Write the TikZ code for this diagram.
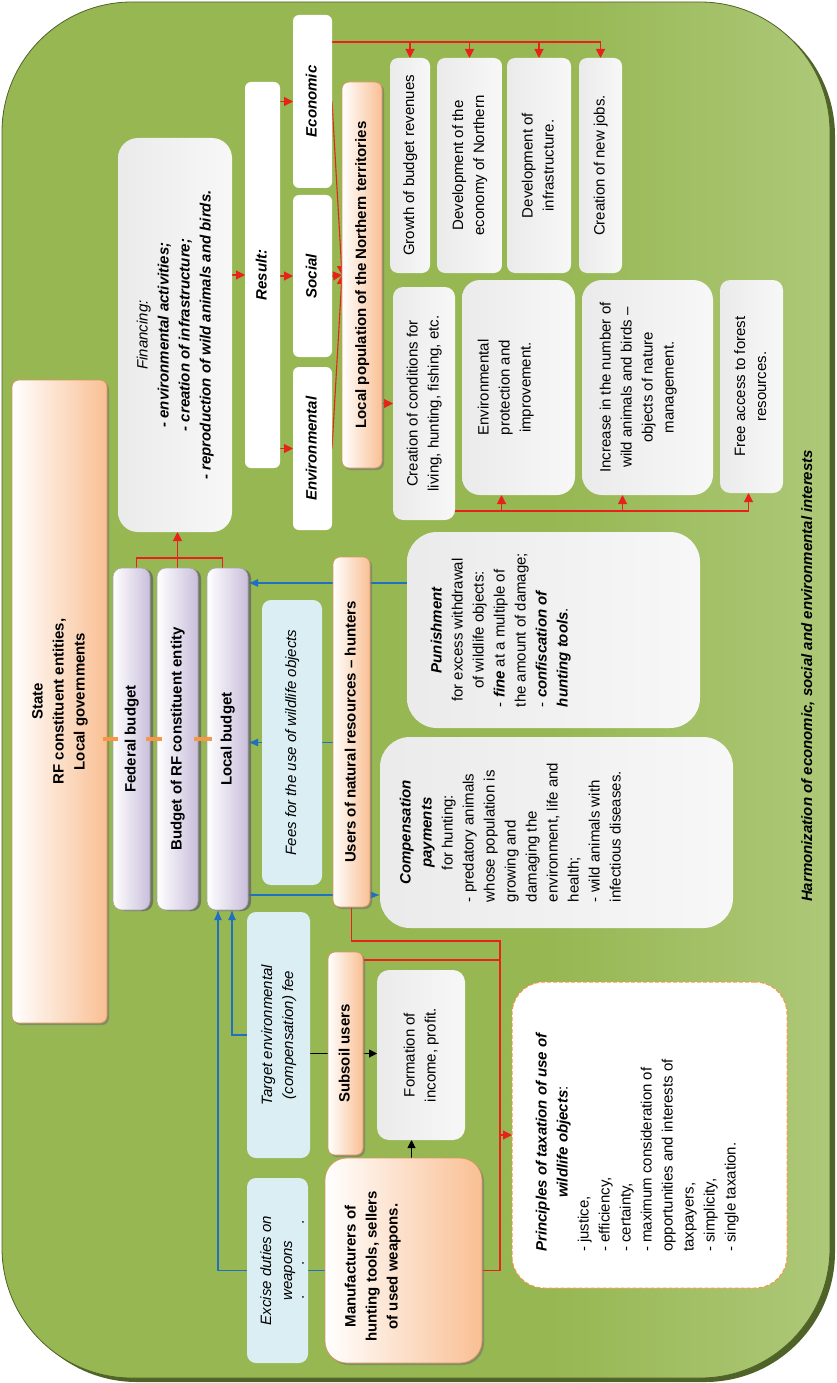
\documentclass[tikz,border=0pt]{standalone}
\usepackage{fontspec}
\setmainfont{Liberation Sans}
\usepackage{graphicx}
\usetikzlibrary{arrows.meta, positioning, shadows, calc}

\definecolor{bgL}{HTML}{BFD595}
\definecolor{bgM}{HTML}{96B752}
\definecolor{bgD}{HTML}{4F6228}
\definecolor{peachR}{HTML}{F9BF93}
\definecolor{peachD}{HTML}{D9955E}
\definecolor{lavR}{HTML}{C9BEDB}
\definecolor{skyF}{HTML}{DBEEF4}
\definecolor{redC}{HTML}{E8221B}
\definecolor{blueC}{HTML}{1F70C1}
\definecolor{dashC}{HTML}{F79646}

\pgfdeclarehorizontalshading{greenbg}{100bp}{color(0bp)=(bgL); color(14bp)=(bgM);
    color(58bp)=(bgM); color(88bp)=(bgL); color(100bp)=(bgL)}

\pgfdeclarelayer{back}
\pgfdeclarelayer{links}
\pgfsetlayers{back,links,main}

% rotated text block (reads bottom to top)
\newcommand{\rt}[2][c]{\rotatebox{90}{\begin{tabular}{@{}#1@{}}#2\end{tabular}}}
\newcommand{\bolditalic}[1]{\textbf{\textit{#1}}}
\newcommand{\ctr}[1]{\multicolumn{1}{@{}c@{}}{#1}}

\begin{document}
\begin{tikzpicture}[x=1pt, y=-1pt,
    font=\fontsize{15}{21}\selectfont,
    every node/.style={inner sep=0pt, outer sep=0pt},
    sz/.style 2 args={minimum width=#1pt, minimum height=#2pt},
    greybox/.style={rectangle, rounded corners=8pt, left color=black!8, right color=black!3},
    whitebox/.style={rectangle, rounded corners=6pt, fill=white},
    bluebox/.style={rectangle, rounded corners=9pt, fill=skyF},
    peachbox/.style={rectangle, rounded corners=7pt, left color=white, right color=peachR,
        draw=peachD, line width=0.7pt,
        drop shadow={shadow xshift=2pt, shadow yshift=-2pt, fill=black!55, opacity=.6}},
    budgetbox/.style={rectangle, rounded corners=9pt, left color=white, right color=lavR,
        draw=black!35, line width=0.6pt,
        drop shadow={shadow xshift=3pt, shadow yshift=-1pt, fill=black!60, opacity=.8}},
    redl/.style={draw=redC, line width=1.1pt},
    redar/.style={redl, -{Triangle[length=9pt, width=9pt]}},
    bluear/.style={draw=blueC, line width=1.2pt, -{Latex[length=10pt, width=8pt]}},
    blkl/.style={draw=black, line width=1pt},
    blkar/.style={blkl, -{Triangle[length=8pt, width=8pt]}}]

    \useasboundingbox (0,0) rectangle (836,1383);

    % Green frame
    \begin{pgfonlayer}{back}
        \fill[bgD, rounded corners=130pt] (7,6) rectangle (835,1382);
        \path[rounded corners=130pt, shading=greenbg, draw=bgD, line width=0.8pt] (2,2) rectangle (830,1378);
    \end{pgfonlayer}

    % State and the budgets
    \node[peachbox, sz={95}{643}] (state) at (59.5,701.5)
        {\bfseries\rt{State\\RF constituent entities,\\Local governments}};
    \node[budgetbox, sz={37}{342}] (fed) at (131.5,739) {\bfseries\rt{Federal budget}};
    \node[budgetbox, sz={41}{342}, right=7pt of fed] (rfb) {\bfseries\rt{Budget of RF constituent entity}};
    \node[budgetbox, sz={41}{342}, right=9pt of rfb] (lbud) {\bfseries\rt{Local budget}};

    % Financing and results
    \node[greybox, rounded corners=20pt, sz={114}{394}] (fin) at (175,335)
        {\rt{\textit{Financing:}\\ \bolditalic{- environmental activities;}\\
        \bolditalic{- creation of infrastructure;}\\ \bolditalic{- reproduction of wild animals and birds.}}};
    \node[whitebox, sz={35}{386}] (res) at (262.5,275) {\rt{\bolditalic{Result:}}};
    \node[whitebox, sz={39}{173}] (eco) at (312.5,101.5) {\rt{\bolditalic{Economic}}};
    \node[whitebox, sz={39}{162}] (soc) at (312.5,276) {\rt{\bolditalic{Social}}};
    \node[whitebox, sz={39}{163}] (env) at (312.5,448.5) {\rt{\bolditalic{Environmental}}};
    \node[peachbox, sz={40}{386}] (loc) at (362,275)
        {\bfseries\rt{Local population of the Northern territories}};

    % Economic effects
    \node[greybox, sz={40}{215}] (grow) at (410,165.5) {\rt{Growth of budget revenues}};
    \node[greybox, sz={65}{215}, right=7pt of grow] (devn) {\rt{Development of the\\economy of Northern}};
    \node[greybox, sz={64}{215}, right=5pt of devn] (devi) {\rt{Development of\\infrastructure.}};
    \node[greybox, sz={43}{215}, right=8pt of devi] (jobs) {\rt{Creation of new jobs.}};

    % Social and environmental effects
    \node[greybox, rounded corners=10pt, sz={62}{233}] (cond) at (424,403.5)
        {\rt{Creation of conditions for\\living, hunting, fishing, etc.}};
    \node[greybox, rounded corners=18pt, sz={113}{215}] (prot) at (518.5,387.5) {};
    \node (prot-t) [anchor=west] at ([xshift=12pt]prot.west)
        {\rt{Environmental\\protection and\\improvement.}};
    \node[greybox, rounded corners=20pt, sz={131}{215}] (incr) at (647.5,387.5) {};
    \node (incr-t) [anchor=west] at ([xshift=14pt]incr.west)
        {\rt{Increase in the number of\\wild animals and birds –\\objects of nature\\management.}};
    \node[greybox, rounded corners=10pt, sz={63}{213}] (free) at (751.5,386.5)
        {\rt{Free access to forest\\resources.}};

    % Hunters
    \node[bluebox, sz={60}{285}] (fees) at (292,742.5) {\itshape\rt{Fees for the use of wildlife objects}};
    \node[peachbox, sz={37}{350}] (hunt) at (351.5,732) {\bfseries\rt{Users of natural resources – hunters}};
    \node[greybox, rounded corners=30pt, sz={293}{196}] (pun) at (553.5,630) {};
    \node (pun-t) [anchor=west] at ([xshift=20pt]pun.west)
        {\rt[l]{\ctr{\bolditalic{Punishment}}\\ \ctr{for excess withdrawal}\\ \ctr{of wildlife objects:}\\
        - \bolditalic{fine} at a multiple of\\ the amount of damage;\\ - \bolditalic{confiscation of}\\
        \bolditalic{hunting tools}.}};
    \node[greybox, rounded corners=30pt, sz={353}{191}] (comp) at (556.5,832.5) {};
    \node (comp-t) [anchor=west] at ([xshift=16pt]comp.west)
        {\rt[l]{\ctr{\bolditalic{Compensation}}\\ \ctr{\bolditalic{payments}}\\ \ctr{for hunting:}\\
        - predatory animals\\ whose population is\\ growing and\\ damaging the\\
        environment, life and\\ health;\\ - wild animals with\\ infectious diseases.}};

    % Subsoil users and manufacturers
    \node[bluebox, sz={63}{246}] (target) at (278.5,1035)
        {\itshape\rt{Target environmental\\(compensation) fee}};
    \node[peachbox, sz={35}{203}] (subs) at (345.5,1053.5) {\bfseries\rt{Subsoil users}};
    \node[greybox, rounded corners=12pt, sz={88}{170}] (form) at (421,1055) {\rt{Formation of\\income, profit.}};
    \node[bluebox, sz={61}{185}] (excise) at (277.5,1270.5) {\itshape\rt{Excise duties on\\weapons}};
    \node (excise-d) at (303,1260) {\rotatebox{90}{.\hspace{30pt}.\hspace{36pt}.}};
    \node[peachbox, rounded corners=22pt, sz={157}{205}] (manu) at (403.5,1260.5) {};
    \node (manu-t) [anchor=west] at ([xshift=16pt, yshift=-6pt]manu.west)
        {\bfseries\rt{Manufacturers of\\hunting tools, sellers\\of used weapons.}};

    % Principles
    \node[whitebox, draw=dashC, dash pattern=on 4pt off 2pt, line width=1pt, rounded corners=32pt,
        sz={275}{306}] (prin) at (649.5,1135) {};
    \node (prin-t) [anchor=west] at ([xshift=20pt, yshift=-7pt]prin.west)
        {\rt[l]{\ctr{\bolditalic{Principles of taxation of use of}}\\ \ctr{\bolditalic{wildlife objects}:}\\
        - justice,\\ - efficiency,\\ - certainty,\\ - maximum consideration of\\
        opportunities and interests of\\ taxpayers,\\ - simplicity,\\ - single taxation.}};

    \node (title) at (808,676)
        {\bfseries\itshape\rt{Harmonization of economic, social and environmental interests}};

    % Budget links
    \foreach \a/\b in {state/fed, fed/rfb, rfb/lbud}
        \draw[dashC, line width=4pt] (\a.east |- fed.west) ++(-4,0) -- ([xshift=5pt]\b.west);

    \begin{pgfonlayer}{links}
        % Financing chain
        \draw[redar] (fin.east |- res.west) -- (res.west);
        \foreach \r in {eco,soc,env} \draw[redar] (res.east |- \r.west) -- (\r.west);
        \foreach \r in {eco,soc,env} \draw[redar] (\r.east) -- (loc.west);
        \draw[redar] (loc.east |- cond.west) -- (cond.west);
        \coordinate (ebus) at ([yshift=-27pt]eco.north east);
        \draw[redl] (ebus) -- (ebus -| jobs.north);
        \foreach \b in {grow,devn,devi,jobs} \draw[redar] (ebus -| \b.north) -- (\b.north);
        \coordinate (cbus) at ([yshift=9pt]cond.south east);
        \coordinate (pa) at ([xshift=-17pt]prot.south);
        \coordinate (ia) at ([xshift=-25pt]incr.south);
        \coordinate (fa) at ([xshift=-3pt]free.south);
        \draw[redl] (cbus) -- (cbus -| fa);
        \foreach \t in {pa,ia,fa} \draw[redar] (cbus -| \t) -- (\t);

        % Budgets to financing
        \coordinate (fb) at ([xshift=5pt]fed.north);
        \coordinate (lb) at ([xshift=-5pt]lbud.north);
        \draw[redl] (fb) -- ++(0,-10) -| (lb);
        \draw[redar] (rfb.north) -- (rfb.north |- fin.south);

        % Payments
        \coordinate (pb) at ([yshift=-51pt]pun.north west);
        \draw[bluear] (pb) -- (pb -| lbud.east);
        \draw[bluear] (hunt.west |- fees.center) -- (lbud.east |- fees.center);
        \coordinate (cb) at ([yshift=15pt]lbud.south east);
        \draw[bluear] (cb) -- (cb -| comp.west);
        \draw[bluear] (target.west) -| ([xshift=4.5pt]lbud.south);
        \draw[bluear] (manu.west |- excise.center) -| ([xshift=-9.5pt]lbud.south);

        % Income
        \draw[blkl] (target.east |- subs.west) -- (subs.west);
        \draw[blkar] (subs.east) -- (subs.east -| form.west);
        \draw[blkar] ([xshift=8pt]manu.north) -- ([xshift=8pt]manu.north |- form.south);

        % To the principles
        \coordinate (tx) at ([xshift=-12pt]prin.west);
        \coordinate (hb) at ([yshift=-34pt]hunt.south);
        \coordinate (sb) at ([yshift=-8pt]subs.north east);
        \draw[redl] (hunt.south) -- (hb) -- (hb -| tx) -- (tx |- excise.center) -- (manu.east |- excise.center);
        \draw[redl] (sb) -- (sb -| tx);
        \draw[redar] (tx) -- (prin.west);
    \end{pgfonlayer}
\end{tikzpicture}
\end{document}
